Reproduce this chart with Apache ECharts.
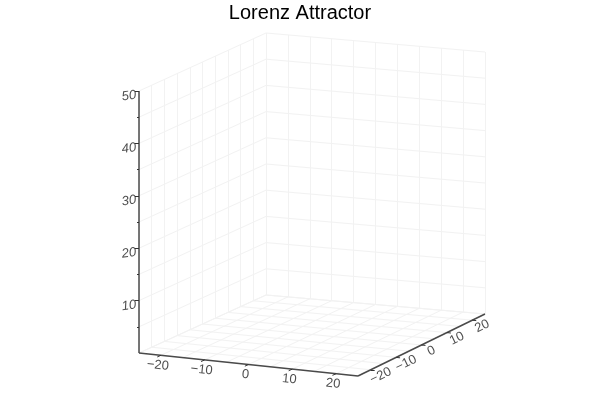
<!DOCTYPE html>
<html>
<head>
<meta charset="utf-8">
<script src="https://cdn.jsdelivr.net/npm/echarts@6/dist/echarts.min.js"></script>
<style>html,body{margin:0;padding:0;background:#fff}#c{width:600px;height:400px}</style>
</head>
<body>
<div id="c"></div>
<script>
// ---- data ----
var title = 'Lorenz Attractor';
var xRange = [-25, 25];
var yRange = [-25, 25];
var zRange = [0, 50];
var xTicks = [-20, -10, 0, 10, 20];
var yTicks = [-20, -10, 0, 10, 20];
var zTicks = [10, 20, 30, 40, 50];
var zMinorTicks = [5, 15, 25, 35, 45];
var xGrid = [-25, -20, -15, -10, -5, 0, 5, 10, 15, 20, 25];
var yGrid = [-25, -20, -15, -10, -5, 0, 5, 10, 15, 20, 25];
var zGrid = [0, 5, 10, 15, 20, 25, 30, 35, 40, 45, 50];

// ---- projection of the 3D box onto the page ----
var P_O = [139, 353], P_A = [358, 376], P_B = [485, 314], P_C = [266, 295];
var zHeight = 262;
function proj(x, y, z) {
  var u = (x - xRange[0]) / (xRange[1] - xRange[0]);
  var v = (y - yRange[0]) / (yRange[1] - yRange[0]);
  var w = (z - zRange[0]) / (zRange[1] - zRange[0]);
  var px = P_O[0]*(1-u)*(1-v) + P_A[0]*u*(1-v) + P_C[0]*(1-u)*v + P_B[0]*u*v;
  var py = P_O[1]*(1-u)*(1-v) + P_A[1]*u*(1-v) + P_C[1]*(1-u)*v + P_B[1]*u*v;
  return [px, py - w * zHeight];
}
function fmt(v) { return v < 0 ? '\u2212' + Math.abs(v) : String(v); }

var gridLines = [];
function seg(a, b) { gridLines.push({ coords: [a, b] }); }
// floor z = min
xGrid.forEach(function (x) { seg(proj(x, yRange[0], zRange[0]), proj(x, yRange[1], zRange[0])); });
yGrid.forEach(function (y) { seg(proj(xRange[0], y, zRange[0]), proj(xRange[1], y, zRange[0])); });
// left wall x = min
yGrid.forEach(function (y) { seg(proj(xRange[0], y, zRange[0]), proj(xRange[0], y, zRange[1])); });
zGrid.forEach(function (z) { seg(proj(xRange[0], yRange[0], z), proj(xRange[0], yRange[1], z)); });
// back wall y = max
xGrid.forEach(function (x) { seg(proj(x, yRange[1], zRange[0]), proj(x, yRange[1], zRange[1])); });
zGrid.forEach(function (z) { seg(proj(xRange[0], yRange[1], z), proj(xRange[1], yRange[1], z)); });

var axisLines = [];
axisLines.push({ coords: [proj(xRange[0], yRange[0], zRange[0]), proj(xRange[1], yRange[0], zRange[0])] });
axisLines.push({ coords: [proj(xRange[1], yRange[0], zRange[0]), proj(xRange[1], yRange[1], zRange[0])] });
axisLines.push({ coords: [proj(xRange[0], yRange[0], zRange[0]), proj(xRange[0], yRange[0], zRange[1])] });

function norm(d, len) { var l = Math.sqrt(d[0]*d[0] + d[1]*d[1]); return [d[0]/l*len, d[1]/l*len]; }
var pO = proj(xRange[0], yRange[0], 0), pC = proj(xRange[0], yRange[1], 0), pA = proj(xRange[1], yRange[0], 0);
var dirX = norm([pO[0]-pC[0], pO[1]-pC[1]], 1);   // outward from x axis
var dirY = norm([pA[0]-pO[0], pA[1]-pO[1]], 1);   // outward from y axis
var tickLines = [];
xTicks.forEach(function (x) { var p = proj(x, yRange[0], zRange[0]); tickLines.push({ coords: [p, [p[0]+dirX[0]*4, p[1]+dirX[1]*4]] }); });
yTicks.forEach(function (y) { var p = proj(xRange[1], y, zRange[0]); tickLines.push({ coords: [p, [p[0]+dirY[0]*4, p[1]+dirY[1]*4]] }); });
zTicks.forEach(function (z) { var p = proj(xRange[0], yRange[0], z); tickLines.push({ coords: [p, [p[0]-4, p[1]]] }); });
zMinorTicks.forEach(function (z) { var p = proj(xRange[0], yRange[0], z); tickLines.push({ coords: [p, [p[0]-2, p[1]]] }); });

var xLabels = xTicks.map(function (x) { var p = proj(x, yRange[0], zRange[0]); return { value: [p[0]-3, p[1]+10], name: fmt(x) }; });
var yLabels = yTicks.map(function (y) { var p = proj(xRange[1], y, zRange[0]); return { value: [p[0]+10, p[1]+6], name: fmt(y) }; });
var zLabels = zTicks.map(function (z) { var p = proj(xRange[0], yRange[0], z); return { value: [p[0]-10, p[1]+5], name: fmt(z) }; });

function labelSeries(data, rotate, italic) {
  return {
    type: 'scatter', data: data, symbolSize: 0, silent: true, z: 5,
    label: { show: true, position: 'inside', formatter: function (p) { return p.name; },
      rotate: rotate, color: '#222', fontSize: 13, fontFamily: 'Liberation Sans, Arial, sans-serif',
      fontStyle: italic ? 'italic' : 'normal' }
  };
}

var chart = echarts.init(document.getElementById('c'), null, { renderer: 'canvas' });
chart.setOption({
  backgroundColor: '#fff',
  animation: false,
  title: { text: title, left: 'center', top: -2,
    textStyle: { fontSize: 20, fontWeight: 'normal', color: '#000', fontFamily: 'Liberation Sans, Arial, sans-serif' } },
  grid: { left: 0, right: 0, top: 0, bottom: 0 },
  xAxis: { type: 'value', min: 0, max: 600, show: false },
  yAxis: { type: 'value', min: 0, max: 400, inverse: true, show: false },
  series: [
    { type: 'lines', coordinateSystem: 'cartesian2d', data: gridLines, silent: true, z: 1,
      lineStyle: { color: '#f2f2f2', width: 1, opacity: 1 } },
    { type: 'lines', coordinateSystem: 'cartesian2d', data: axisLines, silent: true, z: 3,
      lineStyle: { color: '#4a4a4a', width: 1.5, opacity: 1 } },
    { type: 'lines', coordinateSystem: 'cartesian2d', data: tickLines, silent: true, z: 3,
      lineStyle: { color: '#333', width: 1, opacity: 1 } },
    labelSeries(xLabels, -6, false),
    labelSeries(yLabels, 26, false),
    labelSeries(zLabels, 8, true)
  ]
});
</script>
</body>
</html>
